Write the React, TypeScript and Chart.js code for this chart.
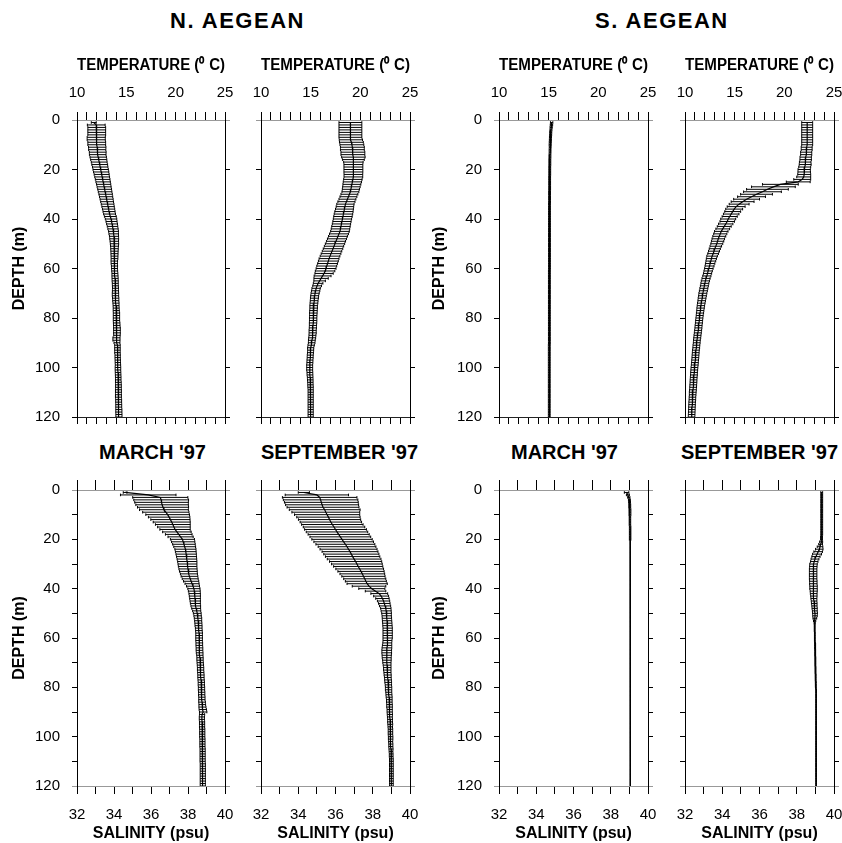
import React, { useEffect, useRef } from "react";
import { Chart, registerables } from "chart.js";

Chart.register(...registerables);

// ---------------- DATA ----------------
const DEPTHS = [
  1, 2, 3, 4, 5, 6, 7, 8, 9, 10,
  11, 12, 13, 14, 15, 16, 17, 18, 19, 20,
  21, 22, 23, 24, 25, 26, 27, 28, 29, 30,
  31, 32, 33, 34, 35, 36, 37, 38, 39, 40,
  41, 42, 43, 44, 45, 46, 47, 48, 49, 50,
  51, 52, 53, 54, 55, 56, 57, 58, 59, 60,
  61, 62, 63, 64, 65, 66, 67, 68, 69, 70,
  71, 72, 73, 74, 75, 76, 77, 78, 79, 80,
  81, 82, 83, 84, 85, 86, 87, 88, 89, 90,
  91, 92, 93, 94, 95, 96, 97, 98, 99, 100,
  101, 102, 103, 104, 105, 106, 107, 108, 109, 110,
  111, 112, 113, 114, 115, 116, 117, 118, 119, 120,
];

const TEMP_TICK_LABELS = [10, 15, 20, 25];
const SAL_TICK_LABELS = [32, 34, 36, 38, 40];
const DEPTH_TICK_LABELS = [0, 20, 40, 60, 80, 100, 120];

const REGIONS = ["N. AEGEAN", "S. AEGEAN"];
const SEASONS = ["MARCH '97", "SEPTEMBER '97"];

// N. Aegean, March '97, temperature (mean, std)
const NA_MAR_TEMP = [
  11.7, 11.95, 12.0, 12.0, 12.0, 12.0, 11.95, 11.95, 12.0, 12.0,
  12.05, 12.05, 12.1, 12.1, 12.15, 12.2, 12.25, 12.3, 12.35, 12.4,
  12.45, 12.5, 12.55, 12.6, 12.65, 12.7, 12.75, 12.8, 12.85, 12.9,
  12.95, 13.0, 13.05, 13.1, 13.15, 13.2, 13.25, 13.3, 13.38, 13.45,
  13.5, 13.55, 13.6, 13.65, 13.7, 13.72, 13.75, 13.77, 13.78, 13.8,
  13.8, 13.8, 13.8, 13.8, 13.8, 13.8, 13.78, 13.78, 13.8, 13.8,
  13.82, 13.84, 13.85, 13.86, 13.87, 13.88, 13.89, 13.9, 13.9, 13.9,
  13.9, 13.92, 13.93, 13.95, 13.96, 13.97, 13.98, 14.0, 14.0, 14.0,
  14.0, 14.02, 14.03, 14.05, 14.05, 14.05, 14.05, 14.0, 14.0, 14.05,
  14.1, 14.1, 14.1, 14.1, 14.12, 14.12, 14.13, 14.14, 14.15, 14.15,
  14.15, 14.16, 14.17, 14.18, 14.18, 14.19, 14.2, 14.2, 14.2, 14.2,
  14.2, 14.2, 14.22, 14.22, 14.23, 14.23, 14.24, 14.24, 14.25, 14.25,
];
const NA_MAR_TEMP_SD = [
  0.25, 0.9, 0.9, 0.9, 0.9, 0.9, 0.92, 0.92, 0.9, 0.9,
  0.88, 0.87, 0.85, 0.84, 0.83, 0.82, 0.8, 0.8, 0.78, 0.78,
  0.77, 0.76, 0.75, 0.74, 0.73, 0.72, 0.71, 0.7, 0.69, 0.68,
  0.67, 0.66, 0.65, 0.64, 0.63, 0.62, 0.61, 0.6, 0.6, 0.58,
  0.56, 0.55, 0.53, 0.52, 0.5, 0.48, 0.46, 0.45, 0.43, 0.42,
  0.4, 0.38, 0.37, 0.36, 0.35, 0.34, 0.33, 0.32, 0.31, 0.3,
  0.3, 0.3, 0.31, 0.31, 0.31, 0.3, 0.3, 0.3, 0.31, 0.32,
  0.32, 0.32, 0.31, 0.31, 0.3, 0.3, 0.31, 0.32, 0.32, 0.32,
  0.32, 0.33, 0.33, 0.34, 0.34, 0.34, 0.33, 0.36, 0.36, 0.3,
  0.28, 0.28, 0.28, 0.28, 0.27, 0.27, 0.27, 0.27, 0.27, 0.28,
  0.28, 0.28, 0.28, 0.28, 0.28, 0.29, 0.29, 0.29, 0.3, 0.3,
  0.3, 0.3, 0.3, 0.3, 0.3, 0.3, 0.31, 0.31, 0.31, 0.31,
];

// N. Aegean, September '97, temperature
const NA_SEP_TEMP = [
  19.0, 19.0, 19.0, 19.0, 19.0, 19.0, 19.0, 19.05, 19.1, 19.15,
  19.2, 19.2, 19.25, 19.25, 19.3, 19.3, 19.3, 19.3, 19.3, 19.3,
  19.3, 19.3, 19.3, 19.25, 19.2, 19.15, 19.1, 19.05, 19.0, 18.9,
  18.8, 18.7, 18.6, 18.5, 18.45, 18.4, 18.35, 18.3, 18.25, 18.2,
  18.15, 18.1, 18.05, 18.0, 17.95, 17.85, 17.75, 17.65, 17.55, 17.45,
  17.35, 17.25, 17.15, 17.05, 16.95, 16.85, 16.78, 16.7, 16.62, 16.55,
  16.45, 16.35, 16.2, 16.05, 15.9, 15.75, 15.65, 15.55, 15.5, 15.45,
  15.4, 15.38, 15.35, 15.33, 15.3, 15.3, 15.28, 15.27, 15.26, 15.25,
  15.25, 15.24, 15.23, 15.22, 15.2, 15.2, 15.18, 15.15, 15.12, 15.1,
  15.05, 15.0, 15.0, 14.98, 14.96, 14.95, 14.93, 14.92, 14.9, 14.9,
  14.9, 14.92, 14.93, 14.95, 14.96, 14.97, 14.98, 14.99, 15.0, 15.0,
  15.0, 15.0, 15.0, 15.0, 15.0, 15.0, 15.0, 15.0, 15.0, 15.0,
];
const NA_SEP_TEMP_SD = [
  1.15, 1.15, 1.15, 1.15, 1.15, 1.15, 1.15, 1.17, 1.2, 1.2,
  1.2, 1.2, 1.2, 1.2, 1.18, 1.1, 0.98, 0.95, 0.95, 0.95,
  0.95, 0.94, 0.94, 0.93, 0.92, 0.9, 0.88, 0.86, 0.85, 0.85,
  0.85, 0.85, 0.86, 0.87, 0.88, 0.9, 0.92, 0.93, 0.93, 0.92,
  0.92, 0.92, 0.93, 0.93, 0.94, 0.95, 0.95, 0.96, 0.96, 0.97,
  0.97, 0.98, 0.98, 0.99, 0.99, 1.0, 1.0, 1.0, 1.0, 1.0,
  0.98, 0.92, 0.85, 0.72, 0.58, 0.48, 0.44, 0.42, 0.42, 0.41,
  0.4, 0.4, 0.39, 0.39, 0.38, 0.38, 0.38, 0.38, 0.37, 0.37,
  0.37, 0.37, 0.36, 0.36, 0.36, 0.36, 0.35, 0.35, 0.34, 0.33,
  0.32, 0.31, 0.3, 0.3, 0.3, 0.3, 0.3, 0.3, 0.3, 0.3,
  0.3, 0.29, 0.29, 0.28, 0.28, 0.27, 0.27, 0.27, 0.26, 0.26,
  0.26, 0.26, 0.26, 0.26, 0.26, 0.26, 0.26, 0.26, 0.26, 0.26,
];

// S. Aegean, March '97, temperature
const SA_MAR_TEMP = [
  15.3, 15.28, 15.25, 15.23, 15.21, 15.2, 15.18, 15.17, 15.16, 15.15,
  15.15, 15.14, 15.14, 15.13, 15.13, 15.12, 15.12, 15.12, 15.11, 15.11,
  15.11, 15.11, 15.1, 15.1, 15.1, 15.1, 15.1, 15.1, 15.09, 15.09,
  15.09, 15.09, 15.09, 15.08, 15.08, 15.08, 15.08, 15.08, 15.08, 15.08,
  15.08, 15.08, 15.08, 15.08, 15.08, 15.08, 15.08, 15.08, 15.08, 15.08,
  15.08, 15.08, 15.08, 15.08, 15.08, 15.08, 15.08, 15.08, 15.08, 15.08,
  15.07, 15.07, 15.07, 15.07, 15.07, 15.07, 15.07, 15.07, 15.07, 15.07,
  15.07, 15.07, 15.07, 15.07, 15.07, 15.07, 15.07, 15.07, 15.07, 15.07,
  15.07, 15.07, 15.07, 15.07, 15.07, 15.07, 15.07, 15.07, 15.07, 15.07,
  15.06, 15.06, 15.06, 15.06, 15.06, 15.06, 15.06, 15.06, 15.06, 15.06,
  15.06, 15.06, 15.06, 15.06, 15.06, 15.06, 15.06, 15.06, 15.06, 15.06,
  15.06, 15.06, 15.06, 15.06, 15.06, 15.06, 15.06, 15.06, 15.06, 15.06,
];
const SA_MAR_TEMP_SD = [
  0.12, 0.12, 0.11, 0.1, 0.1, 0.1, 0.1, 0.1, 0.1, 0.1,
  0.09, 0.09, 0.09, 0.09, 0.09, 0.09, 0.09, 0.09, 0.09, 0.09,
  0.09, 0.09, 0.09, 0.09, 0.09, 0.09, 0.09, 0.09, 0.09, 0.09,
  0.09, 0.09, 0.09, 0.09, 0.09, 0.09, 0.09, 0.09, 0.09, 0.09,
  0.09, 0.09, 0.09, 0.09, 0.09, 0.09, 0.09, 0.09, 0.09, 0.09,
  0.09, 0.09, 0.09, 0.09, 0.09, 0.09, 0.09, 0.09, 0.09, 0.09,
  0.09, 0.09, 0.09, 0.09, 0.09, 0.09, 0.09, 0.09, 0.09, 0.09,
  0.09, 0.09, 0.09, 0.09, 0.09, 0.09, 0.09, 0.09, 0.09, 0.09,
  0.09, 0.09, 0.09, 0.09, 0.09, 0.09, 0.09, 0.09, 0.09, 0.09,
  0.09, 0.09, 0.09, 0.09, 0.09, 0.09, 0.09, 0.09, 0.09, 0.09,
  0.09, 0.09, 0.09, 0.09, 0.09, 0.09, 0.09, 0.09, 0.09, 0.09,
  0.09, 0.09, 0.09, 0.09, 0.09, 0.09, 0.09, 0.09, 0.09, 0.09,
];

// S. Aegean, September '97, temperature
const SA_SEP_TEMP = [
  22.3, 22.3, 22.3, 22.3, 22.3, 22.3, 22.3, 22.3, 22.3, 22.3,
  22.25, 22.25, 22.2, 22.2, 22.15, 22.15, 22.1, 22.1, 22.05, 22.0,
  22.0, 22.0, 21.95, 21.8, 21.4, 19.6, 18.9, 18.3, 17.8, 17.2,
  16.7, 16.2, 15.8, 15.45, 15.15, 14.95, 14.8, 14.65, 14.5, 14.35,
  14.25, 14.1, 13.95, 13.8, 13.65, 13.55, 13.45, 13.35, 13.28, 13.2,
  13.1, 13.0, 12.92, 12.83, 12.73, 12.66, 12.6, 12.53, 12.47, 12.4,
  12.33, 12.27, 12.2, 12.12, 12.05, 12.0, 11.95, 11.9, 11.85, 11.8,
  11.76, 11.72, 11.68, 11.64, 11.6, 11.57, 11.54, 11.51, 11.48, 11.45,
  11.42, 11.4, 11.37, 11.35, 11.32, 11.29, 11.26, 11.23, 11.2, 11.18,
  11.15, 11.13, 11.1, 11.08, 11.06, 11.04, 11.02, 11.0, 10.98, 10.95,
  10.93, 10.91, 10.9, 10.88, 10.86, 10.85, 10.83, 10.82, 10.8, 10.78,
  10.77, 10.75, 10.74, 10.72, 10.71, 10.7, 10.69, 10.68, 10.67, 10.66,
];
const SA_SEP_TEMP_SD = [
  0.55, 0.55, 0.55, 0.55, 0.55, 0.55, 0.55, 0.55, 0.55, 0.55,
  0.55, 0.55, 0.56, 0.56, 0.57, 0.58, 0.58, 0.6, 0.6, 0.62,
  0.63, 0.65, 0.7, 0.85, 1.2, 1.8, 2.2, 2.1, 1.9, 1.6,
  1.4, 1.3, 1.15, 1.0, 0.9, 0.85, 0.8, 0.78, 0.76, 0.75,
  0.73, 0.72, 0.7, 0.69, 0.68, 0.66, 0.65, 0.63, 0.62, 0.6,
  0.58, 0.56, 0.55, 0.54, 0.53, 0.51, 0.49, 0.47, 0.45, 0.43,
  0.42, 0.41, 0.41, 0.41, 0.41, 0.4, 0.4, 0.4, 0.4, 0.4,
  0.39, 0.39, 0.38, 0.38, 0.37, 0.37, 0.36, 0.36, 0.35, 0.35,
  0.35, 0.35, 0.35, 0.35, 0.35, 0.35, 0.35, 0.35, 0.34, 0.34,
  0.34, 0.34, 0.34, 0.34, 0.34, 0.34, 0.34, 0.34, 0.34, 0.34,
  0.34, 0.34, 0.34, 0.34, 0.34, 0.34, 0.34, 0.34, 0.34, 0.34,
  0.33, 0.33, 0.33, 0.33, 0.33, 0.33, 0.33, 0.33, 0.33, 0.33,
];

// N. Aegean, March '97, salinity
const NA_MAR_SAL = [
  34.6, 35.85, 36.5, 36.55, 36.57, 36.6, 36.65, 36.7, 36.8, 36.9,
  36.98, 37.05, 37.12, 37.18, 37.24, 37.3, 37.4, 37.5, 37.6, 37.7,
  37.74, 37.78, 37.82, 37.86, 37.88, 37.9, 37.92, 37.94, 37.96, 37.97,
  37.98, 38.0, 38.02, 38.05, 38.08, 38.12, 38.17, 38.22, 38.27, 38.32,
  38.34, 38.36, 38.37, 38.38, 38.39, 38.4, 38.42, 38.44, 38.47, 38.5,
  38.52, 38.54, 38.55, 38.56, 38.57, 38.58, 38.59, 38.6, 38.6, 38.6,
  38.6, 38.61, 38.61, 38.62, 38.62, 38.63, 38.64, 38.65, 38.65, 38.66,
  38.67, 38.68, 38.68, 38.69, 38.7, 38.7, 38.71, 38.72, 38.72, 38.73,
  38.73, 38.74, 38.74, 38.75, 38.75, 38.76, 38.77, 38.78, 38.8, 38.82,
  38.76, 38.75, 38.75, 38.76, 38.76, 38.76, 38.77, 38.77, 38.77, 38.77,
  38.78, 38.78, 38.78, 38.78, 38.79, 38.79, 38.79, 38.79, 38.79, 38.79,
  38.8, 38.8, 38.8, 38.8, 38.8, 38.8, 38.8, 38.8, 38.8, 38.8,
];
const NA_MAR_SAL_SD = [
  0.1, 1.5, 1.49, 1.48, 1.45, 1.42, 1.38, 1.32, 1.25, 1.18,
  1.12, 1.06, 1.0, 0.94, 0.88, 0.82, 0.77, 0.72, 0.68, 0.65,
  0.63, 0.61, 0.59, 0.57, 0.56, 0.55, 0.54, 0.53, 0.52, 0.51,
  0.5, 0.49, 0.48, 0.46, 0.45, 0.43, 0.41, 0.38, 0.35, 0.33,
  0.32, 0.31, 0.3, 0.29, 0.28, 0.27, 0.26, 0.24, 0.22, 0.21,
  0.2, 0.2, 0.19, 0.19, 0.19, 0.18, 0.18, 0.18, 0.18, 0.18,
  0.18, 0.18, 0.18, 0.18, 0.18, 0.18, 0.17, 0.17, 0.17, 0.17,
  0.17, 0.17, 0.17, 0.17, 0.17, 0.17, 0.17, 0.17, 0.17, 0.17,
  0.17, 0.17, 0.17, 0.17, 0.17, 0.18, 0.18, 0.19, 0.2, 0.2,
  0.14, 0.14, 0.14, 0.14, 0.14, 0.14, 0.14, 0.14, 0.14, 0.14,
  0.14, 0.14, 0.14, 0.14, 0.14, 0.14, 0.14, 0.14, 0.14, 0.14,
  0.14, 0.14, 0.14, 0.14, 0.14, 0.14, 0.14, 0.14, 0.14, 0.14,
];

// N. Aegean, September '97, salinity
const NA_SEP_SAL = [
  34.3, 35.0, 35.15, 35.2, 35.24, 35.28, 35.33, 35.42, 35.48, 35.55,
  35.62, 35.68, 35.75, 35.83, 35.92, 36.0, 36.08, 36.17, 36.26, 36.35,
  36.44, 36.53, 36.62, 36.7, 36.78, 36.85, 36.92, 37.0, 37.08, 37.15,
  37.22, 37.3, 37.37, 37.44, 37.5, 37.57, 37.63, 37.7, 37.8, 37.95,
  38.15, 38.35, 38.45, 38.52, 38.58, 38.62, 38.66, 38.7, 38.72, 38.74,
  38.75, 38.76, 38.77, 38.78, 38.79, 38.8, 38.8, 38.8, 38.8, 38.8,
  38.79, 38.78, 38.77, 38.76, 38.75, 38.75, 38.75, 38.75, 38.76, 38.76,
  38.77, 38.78, 38.78, 38.79, 38.8, 38.81, 38.82, 38.83, 38.84, 38.85,
  38.85, 38.86, 38.87, 38.88, 38.89, 38.89, 38.9, 38.9, 38.91, 38.91,
  38.92, 38.92, 38.93, 38.93, 38.94, 38.94, 38.95, 38.95, 38.95, 38.96,
  38.96, 38.96, 38.97, 38.97, 38.98, 38.98, 38.99, 38.99, 39.0, 39.0,
  39.0, 39.0, 39.0, 39.0, 39.0, 39.0, 39.0, 39.0, 39.0, 39.0,
];
const NA_SEP_SAL_SD = [
  0.3, 1.7, 2.0, 2.0, 1.98, 1.96, 1.93, 1.9, 1.82, 1.75,
  1.7, 1.67, 1.65, 1.65, 1.65, 1.66, 1.65, 1.64, 1.63, 1.62,
  1.6, 1.58, 1.55, 1.53, 1.5, 1.48, 1.46, 1.44, 1.4, 1.36,
  1.32, 1.28, 1.24, 1.2, 1.16, 1.13, 1.1, 1.08, 0.9, 0.7,
  0.55, 0.45, 0.4, 0.36, 0.33, 0.31, 0.3, 0.28, 0.27, 0.26,
  0.25, 0.25, 0.25, 0.25, 0.25, 0.25, 0.25, 0.25, 0.25, 0.25,
  0.24, 0.24, 0.25, 0.26, 0.26, 0.26, 0.25, 0.24, 0.23, 0.22,
  0.21, 0.2, 0.2, 0.19, 0.19, 0.18, 0.18, 0.18, 0.17, 0.17,
  0.17, 0.16, 0.16, 0.16, 0.15, 0.15, 0.15, 0.15, 0.14, 0.14,
  0.14, 0.13, 0.13, 0.13, 0.13, 0.12, 0.12, 0.12, 0.12, 0.12,
  0.12, 0.11, 0.11, 0.11, 0.11, 0.1, 0.1, 0.1, 0.1, 0.1,
  0.1, 0.1, 0.1, 0.1, 0.1, 0.1, 0.1, 0.1, 0.1, 0.1,
];

// S. Aegean, March '97, salinity
const SA_MAR_SAL = [
  38.85, 38.92, 38.97, 39.0, 39.01, 39.02, 39.02, 39.03, 39.03, 39.03,
  39.03, 39.03, 39.03, 39.03, 39.04, 39.04, 39.04, 39.04, 39.04, 39.04,
  39.05, 39.05, 39.05, 39.05, 39.05, 39.05, 39.05, 39.05, 39.05, 39.05,
  39.05, 39.05, 39.05, 39.05, 39.05, 39.05, 39.05, 39.05, 39.05, 39.05,
  39.05, 39.05, 39.05, 39.05, 39.05, 39.05, 39.05, 39.05, 39.05, 39.05,
  39.05, 39.05, 39.05, 39.05, 39.05, 39.05, 39.05, 39.05, 39.05, 39.05,
  39.05, 39.05, 39.05, 39.05, 39.05, 39.05, 39.05, 39.05, 39.05, 39.05,
  39.05, 39.05, 39.05, 39.05, 39.05, 39.05, 39.05, 39.05, 39.05, 39.05,
  39.05, 39.05, 39.05, 39.05, 39.05, 39.05, 39.05, 39.05, 39.05, 39.05,
  39.05, 39.05, 39.05, 39.05, 39.05, 39.05, 39.05, 39.05, 39.05, 39.05,
  39.05, 39.05, 39.05, 39.05, 39.05, 39.05, 39.05, 39.05, 39.05, 39.05,
  39.05, 39.05, 39.05, 39.05, 39.05, 39.05, 39.05, 39.05, 39.05, 39.05,
];
const SA_MAR_SAL_SD = [
  0.12, 0.08, 0.06, 0.05, 0.05, 0.05, 0.05, 0.05, 0.05, 0.05,
  0.04, 0.04, 0.04, 0.04, 0.04, 0.04, 0.04, 0.04, 0.04, 0.04,
  0.01, 0.01, 0.01, 0.01, 0.01, 0.01, 0.01, 0.01, 0.01, 0.01,
  0.01, 0.01, 0.01, 0.01, 0.01, 0.01, 0.01, 0.01, 0.01, 0.01,
  0.01, 0.01, 0.01, 0.01, 0.01, 0.01, 0.01, 0.01, 0.01, 0.01,
  0.01, 0.01, 0.01, 0.01, 0.01, 0.01, 0.01, 0.01, 0.01, 0.01,
  0.01, 0.01, 0.01, 0.01, 0.01, 0.01, 0.01, 0.01, 0.01, 0.01,
  0.01, 0.01, 0.01, 0.01, 0.01, 0.01, 0.01, 0.01, 0.01, 0.01,
  0.01, 0.01, 0.01, 0.01, 0.01, 0.01, 0.01, 0.01, 0.01, 0.01,
  0.01, 0.01, 0.01, 0.01, 0.01, 0.01, 0.01, 0.01, 0.01, 0.01,
  0.01, 0.01, 0.01, 0.01, 0.01, 0.01, 0.01, 0.01, 0.01, 0.01,
  0.01, 0.01, 0.01, 0.01, 0.01, 0.01, 0.01, 0.01, 0.01, 0.01,
];

// S. Aegean, September '97, salinity
const SA_SEP_SAL = [
  39.34, 39.34, 39.34, 39.34, 39.34, 39.34, 39.34, 39.34, 39.34, 39.34,
  39.34, 39.34, 39.34, 39.34, 39.34, 39.34, 39.34, 39.34, 39.33, 39.33,
  39.31, 39.28, 39.25, 39.21, 39.15, 39.09, 39.03, 38.98, 38.94, 38.9,
  38.89, 38.88, 38.88, 38.88, 38.88, 38.88, 38.89, 38.89, 38.9, 38.9,
  38.91, 38.91, 38.92, 38.92, 38.93, 38.94, 38.95, 38.96, 38.97, 38.98,
  38.98, 38.97, 38.96, 38.96, 38.96, 38.96, 38.96, 38.97, 38.97, 38.97,
  38.97, 38.98, 38.98, 38.98, 38.99, 38.99, 38.99, 39.0, 39.0, 39.0,
  39.0, 39.01, 39.01, 39.01, 39.02, 39.02, 39.02, 39.03, 39.03, 39.03,
  39.04, 39.04, 39.04, 39.04, 39.04, 39.04, 39.04, 39.04, 39.04, 39.04,
  39.04, 39.04, 39.04, 39.04, 39.04, 39.04, 39.04, 39.04, 39.04, 39.04,
  39.04, 39.04, 39.04, 39.04, 39.04, 39.04, 39.04, 39.04, 39.04, 39.04,
  39.04, 39.04, 39.04, 39.04, 39.04, 39.04, 39.04, 39.04, 39.04, 39.04,
];
const SA_SEP_SAL_SD = [
  0.05, 0.05, 0.05, 0.05, 0.05, 0.05, 0.05, 0.05, 0.05, 0.05,
  0.05, 0.05, 0.05, 0.05, 0.05, 0.05, 0.05, 0.05, 0.05, 0.05,
  0.08, 0.1, 0.15, 0.2, 0.23, 0.24, 0.22, 0.21, 0.2, 0.2,
  0.2, 0.2, 0.2, 0.2, 0.2, 0.2, 0.2, 0.2, 0.2, 0.2,
  0.19, 0.18, 0.17, 0.16, 0.15, 0.15, 0.14, 0.14, 0.13, 0.13,
  0.12, 0.1, 0.06, 0.03, 0.02, 0.02, 0.02, 0.02, 0.02, 0.02,
  0.02, 0.02, 0.02, 0.02, 0.02, 0.02, 0.02, 0.02, 0.02, 0.02,
  0.02, 0.02, 0.02, 0.02, 0.02, 0.02, 0.02, 0.02, 0.02, 0.02,
  0.02, 0.02, 0.02, 0.02, 0.02, 0.02, 0.02, 0.02, 0.02, 0.02,
  0.02, 0.02, 0.02, 0.02, 0.02, 0.02, 0.02, 0.02, 0.02, 0.02,
  0.02, 0.02, 0.02, 0.02, 0.02, 0.02, 0.02, 0.02, 0.02, 0.02,
  0.02, 0.02, 0.02, 0.02, 0.02, 0.02, 0.02, 0.02, 0.02, 0.02,
];

// ---------------- LAYOUT / STYLE ----------------
const FONT = "'Liberation Sans', Arial, Helvetica, sans-serif";
const GRAY = "#999999";
const COL_LEFT = [77, 261, 499, 685];
const COL_WIDTH = [148, 149, 149, 149];
const ROW_TOP = [120, 490];
const ROW_HEIGHT = [297, 296];

type PanelSpec = { mean: number[]; sd: number[]; row: number; col: number };

const PANELS: PanelSpec[] = [
  { mean: NA_MAR_TEMP, sd: NA_MAR_TEMP_SD, row: 0, col: 0 },
  { mean: NA_SEP_TEMP, sd: NA_SEP_TEMP_SD, row: 0, col: 1 },
  { mean: SA_MAR_TEMP, sd: SA_MAR_TEMP_SD, row: 0, col: 2 },
  { mean: SA_SEP_TEMP, sd: SA_SEP_TEMP_SD, row: 0, col: 3 },
  { mean: NA_MAR_SAL, sd: NA_MAR_SAL_SD, row: 1, col: 0 },
  { mean: NA_SEP_SAL, sd: NA_SEP_SAL_SD, row: 1, col: 1 },
  { mean: SA_MAR_SAL, sd: SA_MAR_SAL_SD, row: 1, col: 2 },
  { mean: SA_SEP_SAL, sd: SA_SEP_SAL_SD, row: 1, col: 3 },
];

function Panel({ spec }: { spec: PanelSpec }) {
  const ref = useRef<HTMLCanvasElement | null>(null);
  const { row, col } = spec;
  const isTemp = row === 0;
  const labeled = col % 2 === 0;
  const L = labeled ? 77 : 12;
  const R = 12;
  const T = isTemp ? 70 : 14;
  const B = isTemp ? 12 : 57;
  const left = COL_LEFT[col] - L;
  const top = ROW_TOP[row] - T;
  const width = COL_WIDTH[col] + L + R;
  const height = ROW_HEIGHT[row] + T + B;

  useEffect(() => {
    if (!ref.current) return;
    const errData: { x: number | null; y: number }[] = [];
    DEPTHS.forEach((d, i) => {
      errData.push({ x: spec.mean[i] - spec.sd[i], y: d });
      errData.push({ x: spec.mean[i] + spec.sd[i], y: d });
      errData.push({ x: null, y: d });
    });
    const meanData = DEPTHS.map((d, i) => ({ x: spec.mean[i], y: d }));

    const xMin = isTemp ? 10 : 32;
    const xMax = isTemp ? 25 : 40;
    const xLabels = isTemp ? TEMP_TICK_LABELS : SAL_TICK_LABELS;
    const tickFont = { family: FONT, size: 15 };
    const titleFont = { family: FONT, size: 16, weight: "bold" as const };
    const zeroPad = (s: any) => {
      s.paddingLeft = 0;
      s.paddingRight = 0;
      s.paddingTop = 0;
      s.paddingBottom = 0;
    };
    const edgeColor = (ctx: any) => {
      const v = ctx.tick ? ctx.tick.value : -1;
      if (v === 0) return GRAY;
      if (!isTemp && v === 120) return GRAY;
      return "#000";
    };

    const chart = new Chart(ref.current, {
      type: "line",
      data: {
        datasets: [
          {
            data: errData as any,
            borderColor: "#000",
            borderWidth: 1,
            pointStyle: "line",
            pointRotation: 90,
            pointRadius: 1.3,
            pointBorderWidth: 1,
            pointBorderColor: "#000",
            spanGaps: false,
            xAxisID: "x",
            yAxisID: "y",
            order: 2,
          },
          {
            data: meanData as any,
            borderColor: "#000",
            borderWidth: 1.2,
            pointRadius: 0,
            xAxisID: "x",
            yAxisID: "y",
            order: 1,
          },
        ],
      },
      options: {
        responsive: false,
        animation: false,
        events: [],
        layout: { padding: 0 },
        plugins: {
          legend: { display: false },
          tooltip: { enabled: false },
          title: { display: false },
        },
        scales: {
          x: {
            type: "linear",
            position: isTemp ? "top" : "bottom",
            min: xMin,
            max: xMax,
            ticks: {
              stepSize: 1,
              autoSkip: false,
              maxRotation: 0,
              minRotation: 0,
              callback: (v: any) => (xLabels.includes(Number(v)) ? String(v) : ""),
              font: tickFont,
              color: "#000",
              padding: isTemp ? 10 : 12,
            },
            grid: {
              drawOnChartArea: false,
              drawTicks: true,
              tickLength: 8,
              tickColor: "#000",
              tickWidth: 1,
            },
            border: { display: true, color: GRAY, width: 1 },
            title: {
              display: true,
              text: isTemp ? "TEMPERATURE (⁰ C)" : "SALINITY (psu)",
              font: titleFont,
              color: "#000",
              padding: isTemp ? { top: 6, bottom: 0 } : { top: 0, bottom: 0 },
            },
            afterFit: (s: any) => {
              s.height = isTemp ? T : B;
              zeroPad(s);
            },
          },
          x2: {
            type: "linear",
            position: isTemp ? "bottom" : "top",
            min: xMin,
            max: xMax,
            ticks: { display: false, stepSize: 1, autoSkip: false },
            grid: {
              drawOnChartArea: false,
              drawTicks: true,
              tickLength: isTemp ? 7 : 10,
              tickColor: "#000",
              tickWidth: 1,
            },
            border: { display: true, color: isTemp ? "#222" : GRAY, width: 1 },
            afterFit: (s: any) => {
              s.height = isTemp ? B : T;
              zeroPad(s);
            },
          },
          y: {
            type: "linear",
            position: "left",
            reverse: true,
            min: 0,
            max: 120,
            ticks: {
              display: labeled,
              stepSize: isTemp ? 20 : 10,
              autoSkip: false,
              callback: (v: any) => (DEPTH_TICK_LABELS.includes(Number(v)) ? String(v) : ""),
              font: tickFont,
              color: "#000",
              padding: 12,
            },
            grid: {
              drawOnChartArea: false,
              drawTicks: true,
              tickLength: 5,
              tickColor: edgeColor,
              tickWidth: 1,
            },
            border: { display: true, color: "#000", width: 1 },
            title: {
              display: labeled,
              text: "DEPTH (m)",
              font: titleFont,
              color: "#000",
              padding: { top: col === 0 ? 10 : 8, bottom: 0 },
            },
            afterFit: (s: any) => {
              s.width = L;
              zeroPad(s);
            },
          },
          y2: {
            type: "linear",
            position: "right",
            reverse: true,
            min: 0,
            max: 120,
            ticks: { display: false, stepSize: isTemp ? 20 : 10, autoSkip: false },
            grid: {
              drawOnChartArea: false,
              drawTicks: true,
              tickLength: 5,
              tickColor: edgeColor,
              tickWidth: 1,
            },
            border: { display: true, color: "#000", width: 1 },
            afterFit: (s: any) => {
              s.width = R;
              zeroPad(s);
            },
          },
        },
      } as any,
    });
    return () => chart.destroy();
  }, []);

  return (
    <canvas
      ref={ref}
      width={width}
      height={height}
      style={{ position: "absolute", left, top, width, height }}
    />
  );
}

const headingStyle = (left: number, top: number, size: number, spacing = 0): React.CSSProperties => ({
  position: "absolute",
  left,
  top,
  fontFamily: FONT,
  fontWeight: "bold",
  fontSize: size,
  lineHeight: `${size}px`,
  letterSpacing: spacing,
  whiteSpace: "nowrap",
  color: "#000",
});

export default function App() {
  return (
    <div
      style={{
        position: "absolute",
        left: 0,
        top: 0,
        width: 842,
        height: 843,
        overflow: "hidden",
        background: "#fff",
      }}
    >
      <div style={headingStyle(170, 10, 22, 1.5)}>{REGIONS[0]}</div>
      <div style={headingStyle(595, 10, 22, 1.5)}>{REGIONS[1]}</div>
      <div style={headingStyle(99, 442, 20)}>{SEASONS[0]}</div>
      <div style={headingStyle(261, 442, 20)}>{SEASONS[1]}</div>
      <div style={headingStyle(511, 442, 20)}>{SEASONS[0]}</div>
      <div style={headingStyle(681, 442, 20)}>{SEASONS[1]}</div>
      {PANELS.map((p, i) => (
        <Panel key={i} spec={p} />
      ))}
    </div>
  );
}
